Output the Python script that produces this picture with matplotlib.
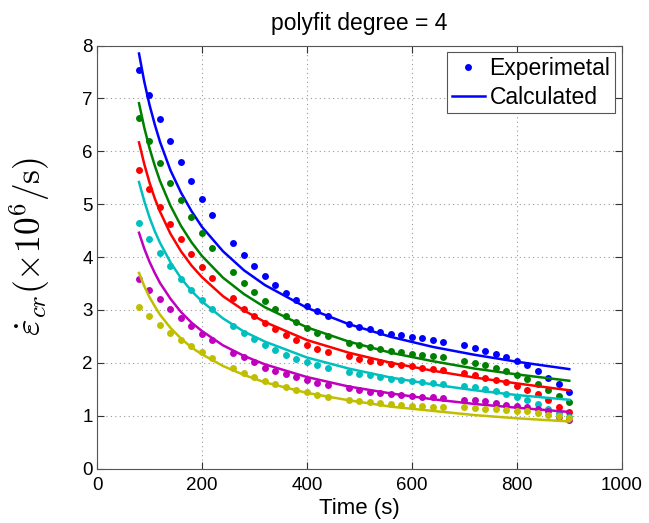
import matplotlib
matplotlib.use("Agg")
import matplotlib.pyplot as plt
from matplotlib.lines import Line2D

plt.rcParams['font.family'] = ['Liberation Sans', 'DejaVu Sans']
plt.rcParams['mathtext.fontset'] = 'cm'

# Experimental time points (s)
t_exp = [80, 100, 120, 140, 160, 180, 200, 220,
         260, 280, 300, 320, 340, 360, 380, 400, 420, 440,
         480, 500, 520, 540, 560, 580, 600, 620, 640, 660,
         700, 720, 740, 760, 780, 800, 820, 840, 860, 880, 900]

exp_blue = [7.54, 7.06, 6.61, 6.19, 5.79, 5.43, 5.09, 4.79,
            4.27, 4.04, 3.83, 3.64, 3.48, 3.32, 3.18, 3.07, 2.98, 2.88,
            2.74, 2.68, 2.63, 2.58, 2.55, 2.52, 2.49, 2.46, 2.43, 2.39,
            2.33, 2.28, 2.23, 2.17, 2.11, 2.03, 1.96, 1.84, 1.72, 1.60, 1.44]
exp_green = [6.63, 6.19, 5.78, 5.41, 5.08, 4.75, 4.45, 4.18,
             3.72, 3.51, 3.34, 3.17, 3.02, 2.89, 2.77, 2.66, 2.57, 2.50,
             2.38, 2.33, 2.29, 2.26, 2.23, 2.20, 2.17, 2.14, 2.12, 2.10,
             2.03, 2.00, 1.95, 1.90, 1.84, 1.77, 1.69, 1.60, 1.49, 1.38, 1.25]
exp_red = [5.65, 5.28, 4.95, 4.62, 4.34, 4.06, 3.82, 3.60,
           3.22, 3.02, 2.89, 2.75, 2.63, 2.52, 2.43, 2.33, 2.26, 2.20,
           2.12, 2.08, 2.04, 2.01, 1.98, 1.95, 1.93, 1.90, 1.88, 1.86,
           1.81, 1.77, 1.72, 1.68, 1.63, 1.57, 1.49, 1.41, 1.30, 1.17, 1.06]
exp_cyan = [4.64, 4.34, 4.08, 3.83, 3.58, 3.37, 3.18, 3.01,
            2.69, 2.57, 2.45, 2.33, 2.24, 2.15, 2.07, 2.01, 1.95, 1.91,
            1.83, 1.79, 1.76, 1.73, 1.70, 1.68, 1.65, 1.64, 1.62, 1.60,
            1.56, 1.54, 1.50, 1.46, 1.41, 1.36, 1.29, 1.22, 1.13, 1.05, 0.98]
exp_magenta = [3.58, 3.37, 3.20, 3.01, 2.84, 2.69, 2.55, 2.43,
               2.19, 2.11, 2.01, 1.91, 1.84, 1.78, 1.73, 1.67, 1.62, 1.58,
               1.52, 1.48, 1.45, 1.43, 1.41, 1.39, 1.38, 1.36, 1.35, 1.34,
               1.30, 1.29, 1.27, 1.24, 1.20, 1.19, 1.16, 1.13, 1.08, 0.98, 0.92]
exp_yellow = [3.05, 2.88, 2.72, 2.57, 2.44, 2.31, 2.20, 2.09,
              1.90, 1.81, 1.73, 1.66, 1.60, 1.55, 1.49, 1.44, 1.39, 1.36,
              1.30, 1.27, 1.25, 1.24, 1.22, 1.20, 1.19, 1.19, 1.17, 1.16,
              1.16, 1.15, 1.13, 1.12, 1.11, 1.09, 1.08, 1.05, 1.02, 1.00, 0.95]

# Calculated curves
t_calc = [80, 90, 100, 110, 120, 140, 160, 180, 200, 240, 280, 320,
          400, 480, 560, 640, 720, 800, 900]
calc_blue = [7.85, 7.32, 6.88, 6.51, 6.18, 5.64, 5.22, 4.87, 4.57, 4.11, 3.75,
             3.47, 3.04, 2.73, 2.49, 2.30, 2.15, 2.02, 1.88]
calc_green = [6.91, 6.45, 6.06, 5.73, 5.44, 4.97, 4.59, 4.28, 4.02, 3.61, 3.30,
              3.05, 2.67, 2.40, 2.19, 2.03, 1.89, 1.78, 1.66]
calc_red = [6.17, 5.76, 5.41, 5.11, 4.86, 4.44, 4.11, 3.84, 3.62, 3.26, 2.99,
            2.77, 2.43, 2.19, 2.00, 1.85, 1.72, 1.61, 1.48]
calc_cyan = [5.42, 5.06, 4.75, 4.49, 4.27, 3.90, 3.60, 3.36, 3.16, 2.84, 2.59,
             2.40, 2.10, 1.89, 1.72, 1.59, 1.48, 1.39, 1.30]
calc_magenta = [4.46, 4.16, 3.91, 3.70, 3.51, 3.21, 2.96, 2.76, 2.60, 2.33,
                2.13, 1.97, 1.73, 1.55, 1.42, 1.31, 1.22, 1.15, 1.07]
calc_yellow = [3.70, 3.45, 3.24, 3.07, 2.91, 2.66, 2.46, 2.29, 2.16, 1.94,
               1.77, 1.63, 1.43, 1.29, 1.17, 1.09, 1.01, 0.95, 0.89]

colors = ['#0000ff', '#008000', '#ff0000', '#00bfbf', '#bf00bf', '#bfbf00']
exp_series = [exp_blue, exp_green, exp_red, exp_cyan, exp_magenta, exp_yellow]
calc_series = [calc_blue, calc_green, calc_red, calc_cyan, calc_magenta, calc_yellow]

x_ticks = [0, 200, 400, 600, 800, 1000]
y_ticks = [0, 1, 2, 3, 4, 5, 6, 7, 8]

fig = plt.figure(figsize=(6.49, 5.23), dpi=100)
ax = fig.add_axes([0.1495, 0.1042, 0.8085, 0.8086])

for c, e, cl in zip(colors, exp_series, calc_series):
    ax.plot(t_exp, e, linestyle='none', marker='o', markersize=5.0,
            color=c, markeredgewidth=0)
    ax.plot(t_calc, cl, color=c, linewidth=1.8)

ax.set_xlim(0, 1000)
ax.set_ylim(0, 8)
ax.set_xticks(x_ticks)
ax.set_yticks(y_ticks)
ax.tick_params(direction='in', top=True, right=True, labelsize=13.5,
               length=5, width=0.8, colors='#333333', labelcolor='black')
ax.tick_params(axis='x', pad=6)
ax.tick_params(axis='y', pad=3)
for s in ax.spines.values():
    s.set_color('#555555')
    s.set_linewidth(0.8)
ax.grid(True, linestyle=(0, (1, 3)), color='#999999', linewidth=0.8)

ax.set_title('polyfit degree = 4', fontsize=16.5, pad=11)
ax.set_xlabel('Time (s)', fontsize=16, labelpad=3)
ax.set_ylabel(r'$\dot{\varepsilon}_{cr}(\times 10^6/\mathrm{s})$', fontsize=25.5)
ax.yaxis.set_label_coords(-0.086, 0.525)

handles = [Line2D([], [], linestyle='none', marker='o', markersize=5.0,
                  color='#0000ff', markeredgewidth=0),
           Line2D([], [], color='#0000ff', linewidth=1.8)]
leg = ax.legend(handles, ['Experimetal', 'Calculated'], loc='upper right',
                fontsize=16.5, fancybox=False, framealpha=1, edgecolor='#555555',
                borderpad=0.2, handlelength=1.45, handletextpad=0.2,
                labelspacing=0.25, borderaxespad=0.3)
leg.get_frame().set_linewidth(0.8)

fig.savefig('out.png', dpi=100)
